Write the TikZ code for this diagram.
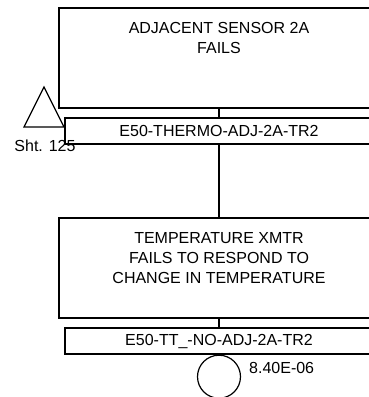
\documentclass[tikz,border=0pt]{standalone}
\usepackage{fontspec}
\setmainfont{Liberation Sans}
\usetikzlibrary{positioning}
\tikzset{
  evbox/.style={draw, line width=1.2pt, minimum width=320pt, minimum height=100pt, inner sep=0pt, anchor=center},
  idbox/.style={draw, line width=1.2pt, minimum width=308pt, minimum height=26pt, inner sep=0pt, anchor=center, font=\fontsize{16}{20}\selectfont},
  evtext/.style={align=center, inner sep=0pt, font=\fontsize{16}{20}\selectfont},
  conn/.style={line width=1.2pt},
  basic/.style={draw, circle, line width=1.2pt, minimum size=43pt, inner sep=0pt},
  tri/.style={line width=1.2pt},
  plain/.style={inner sep=0pt, font=\fontsize{16}{20}\selectfont}
}
\begin{document}
\begin{tikzpicture}[x=1pt,y=-1pt]
\useasboundingbox (0,0) rectangle (369,397);
\clip (0,0) rectangle (369,397);
% top event
\node[evbox] (ev1) at (219,58) {};
\node[evtext] (ev1t) at (219,38) {ADJACENT SENSOR 2A\\FAILS};
\node[idbox] (id1) at (219,131) {E50-THERMO-ADJ-2A-TR2};
\draw[conn] (ev1.south) -- (id1.north);
% transfer triangle
\coordinate (tA) at (44,87);
\coordinate (tB) at (24,127);
\coordinate (tC) at (64,127);
\draw[tri] (tA) -- (tB) -- (tC) -- cycle;
\node[plain] (sht) at (45,146) {Sht. 125};
% second event
\node[evbox] (ev2) at (219,268) {};
\node[evtext] (ev2t) at (219,258) {TEMPERATURE XMTR\\FAILS TO RESPOND TO\\CHANGE IN TEMPERATURE};
\draw[conn] (id1.south) -- (ev2.north);
\node[idbox] (id2) at (219,341) {E50-TT\_-NO-ADJ-2A-TR2};
\draw[conn] (ev2.south) -- (id2.north);
\node[basic, anchor=north] (be) at (id2.south) {};
\node[plain, anchor=west] (prob) at (249,368) {8.40E-06};
\end{tikzpicture}
\end{document}
